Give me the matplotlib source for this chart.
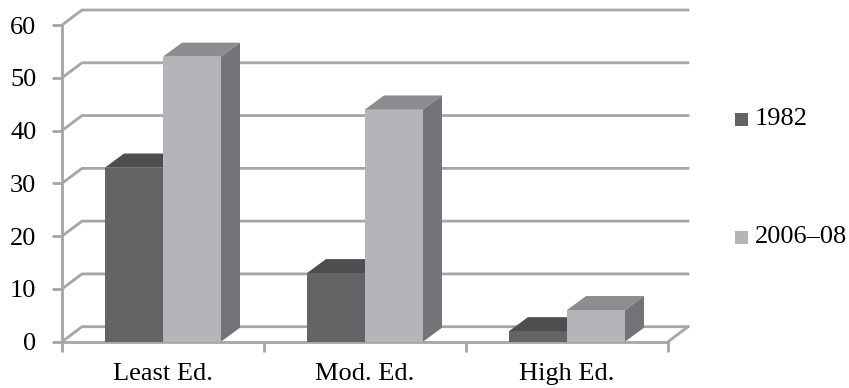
import matplotlib
matplotlib.use("Agg")
import matplotlib.pyplot as plt
from matplotlib.patches import Polygon, Rectangle

# Share of group (percent) by education level, two survey periods
categories = ["Least Ed.", "Mod. Ed.", "High Ed."]
series_names = ["1982", "2006–08"]
values_1982 = [33, 13, 2]
values_2006 = [54, 44, 6]
y_ticks = [0, 10, 20, 30, 40, 50, 60]

plt.rcParams["font.family"] = ["Liberation Serif", "DejaVu Serif"]

W, H = 849, 388
fig = plt.figure(figsize=(W / 100, H / 100), dpi=100)

# front plane of the 3-D plot area, in pixels (x from left, y from top)
px_left, px_right, px_bottom, px_top = 62, 668, 341.7, 25
ax = fig.add_axes([px_left / W, 1 - px_bottom / H,
                   (px_right - px_left) / W, (px_bottom - px_top) / H])
ax.set_xlim(-0.5, 2.5)
ax.set_ylim(0, 60)

ux = 3.0 / (px_right - px_left)
uy = 60.0 / (px_bottom - px_top)
wall_dx, wall_dy = 20 * ux, 15 * uy
bar_dx, bar_dy = 19 * ux, 14 * uy
bar_w = 58 * ux

grid_c = "#a6a6a6"
styles = [
    dict(front="#646466", top="#4e4e50", side="#5a5a5c"),
    dict(front="#b4b5b8", top="#8c8d90", side="#737477"),
]

# back wall gridlines with their side-wall diagonals
for t in y_ticks:
    ax.plot([-0.5, -0.5 + wall_dx, 2.5 + wall_dx], [t, t + wall_dy, t + wall_dy],
            color=grid_c, lw=2, clip_on=False, zorder=1, solid_joinstyle="miter")
# floor front-right edge
ax.plot([2.5, 2.5 + wall_dx], [0, wall_dy], color=grid_c, lw=2, clip_on=False, zorder=1)

for spine in ("top", "right"):
    ax.spines[spine].set_visible(False)
for spine in ("left", "bottom"):
    ax.spines[spine].set_color(grid_c)
    ax.spines[spine].set_linewidth(2)
    ax.spines[spine].set_zorder(1)
ax.patch.set_visible(False)

# 3-D columns
for s, vals in enumerate([values_1982, values_2006]):
    st = styles[s]
    for i, v in enumerate(vals):
        x0 = i - bar_w + s * bar_w
        ax.bar(x0, v, width=bar_w, align="edge", color=st["front"],
               edgecolor="none", zorder=3 + s, clip_on=False)
        top = [(x0, v), (x0 + bar_w, v), (x0 + bar_w + bar_dx, v + bar_dy), (x0 + bar_dx, v + bar_dy)]
        side = [(x0 + bar_w, 0), (x0 + bar_w + bar_dx, bar_dy),
                (x0 + bar_w + bar_dx, v + bar_dy), (x0 + bar_w, v)]
        ax.add_patch(Polygon(top, closed=True, facecolor=st["top"], edgecolor="none",
                             zorder=3 + s, clip_on=False))
        ax.add_patch(Polygon(side, closed=True, facecolor=st["side"], edgecolor="none",
                             zorder=3 + s, clip_on=False))

ax.set_yticks(y_ticks)
ax.set_yticklabels([str(t) for t in y_ticks])
ax.tick_params(axis="y", length=7, width=2, color=grid_c, pad=11.5, labelsize=19)
ax.set_xticks(range(len(categories)))
ax.set_xticklabels(categories)
ax.set_xticks([-0.5, 0.5, 1.5, 2.5], minor=True)
ax.tick_params(axis="x", which="major", length=0, pad=15.5, labelsize=19)
ax.tick_params(axis="x", which="minor", length=7, width=2, color=grid_c)

# legend
for s, (name, yc) in enumerate(zip(series_names, [119, 237])):
    fig.patches.append(Rectangle((735 / W, 1 - (yc + 6.5) / H), 13 / W, 13 / H,
                                 transform=fig.transFigure, facecolor=styles[s]["front"],
                                 edgecolor="none"))
    fig.text(755 / W, 1 - yc / H, name, va="center", ha="left", fontsize=19)

fig.savefig("out.png", dpi=100)
